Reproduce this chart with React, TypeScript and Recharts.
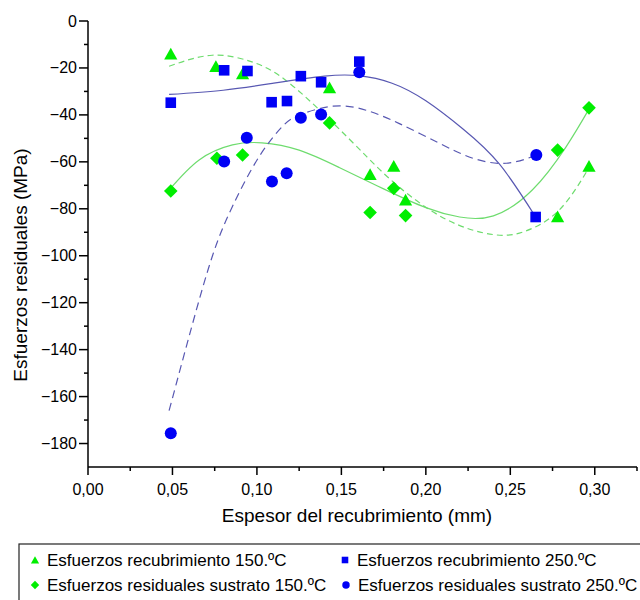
import React from "react";
import { ComposedChart, Line, Scatter, XAxis, YAxis } from "recharts";

const FONT = '"Liberation Sans", Arial, Helvetica, sans-serif';
const GREEN = "#00ee00";
const BLUE = "#0000f5";
const GREEN_FIT = "#6edc6e";
const BLUE_FIT = "#5858b2";

// espesor (mm) y esfuerzo (MPa) medidos
const xTri150 = [0.049, 0.0757, 0.0915, 0.143, 0.167, 0.181, 0.188, 0.278, 0.2966];
const yTri150 = [-14, -19.3, -22.4, -28.3, -65.3, -61.8, -76.2, -83.3, -61.8];

const xDia150 = [0.049, 0.0763, 0.0915, 0.143, 0.167, 0.181, 0.188, 0.278, 0.2966];
const yDia150 = [-72.4, -58.5, -57.1, -43.4, -81.6, -71.3, -82.9, -55, -37];

const xSq250 = [0.049, 0.0806, 0.0944, 0.1087, 0.1178, 0.126, 0.138, 0.1606, 0.265];
const ySq250 = [-34.8, -21, -21.3, -34.6, -34.1, -23.5, -26.1, -17.3, -83.5];

const xCir250 = [0.049, 0.0806, 0.094, 0.1089, 0.1176, 0.126, 0.138, 0.1606, 0.2654];
const yCir250 = [-175.6, -59.9, -49.7, -68.4, -64.9, -41.2, -39.8, -21.8, -57.1];

// curvas de ajuste
const xFitTri150 = [0.048, 0.0735, 0.097, 0.117, 0.143, 0.165, 0.184, 0.212, 0.24, 0.259, 0.279, 0.297];
const yFitTri150 = [-19.3, -14.6, -17.4, -25.2, -42, -57.8, -70.6, -84.5, -91, -89.5, -80.5, -62];

const xFitDia150 = [0.048, 0.0658, 0.0855, 0.103, 0.125, 0.149, 0.175, 0.2, 0.22, 0.24, 0.263, 0.283, 0.297];
const yFitDia150 = [-72, -59.2, -52.8, -51.9, -55, -62.5, -71.5, -79.5, -83.5, -83, -72, -53.6, -37];

const xFitSq250 = [0.048, 0.08, 0.11, 0.14, 0.16, 0.18, 0.2, 0.222, 0.2436, 0.265];
const yFitSq250 = [-31.3, -29.5, -26.5, -23.5, -23.3, -26.5, -34, -46, -61, -83.5];

const xFitCir250 = [0.048, 0.0615, 0.0737, 0.0855, 0.1013, 0.115, 0.125, 0.145, 0.1646, 0.184, 0.208, 0.228, 0.2476, 0.2654];
const yFitCir250 = [-166, -130, -100, -79, -57.8, -45, -40.1, -36.3, -38, -43.6, -52.1, -58.5, -60.6, -57.1];

const xTicks = [0, 0.025, 0.05, 0.075, 0.1, 0.125, 0.15, 0.175, 0.2, 0.225, 0.25, 0.275, 0.3, 0.325];
const yTicks = [-180, -170, -160, -150, -140, -130, -120, -110, -100, -90, -80, -70, -60, -50, -40, -30, -20, -10, 0];

const zip = (xs: number[], ys: number[]) => xs.map((x, i) => ({ x, y: ys[i] }));

const XTick = ({ x, y, payload }: any) => {
  const v = payload.value;
  const major = Math.round(v * 1000) % 50 === 0;
  return (
    <g>
      <line x1={x} x2={x} y1={y} y2={y + (major ? 8 : 4)} stroke="#000" strokeWidth={1.5} />
      {major && (
        <text x={x} y={y + 28} textAnchor="middle" fontSize={16} fontFamily={FONT} fill="#000">
          {v.toFixed(2).replace(".", ",")}
        </text>
      )}
    </g>
  );
};

const YTick = ({ x, y, payload }: any) => {
  const v = payload.value;
  const major = v % 20 === 0;
  return (
    <g>
      <line x1={x - (major ? 9 : 4)} x2={x} y1={y} y2={y} stroke="#000" strokeWidth={1.5} />
      {major && (
        <text x={x - 11} y={y + 5.5} textAnchor="end" fontSize={16} fontFamily={FONT} fill="#000">
          {(v < 0 ? "\u2212" : "") + Math.abs(v)}
        </text>
      )}
    </g>
  );
};

const Tri = ({ cx, cy, s = 1 }: any) => (
  <polygon
    points={`${cx},${cy - 6 * s} ${cx - 6.6 * s},${cy + 5.7 * s} ${cx + 6.6 * s},${cy + 5.7 * s}`}
    fill={GREEN}
  />
);
const Dia = ({ cx, cy, s = 1 }: any) => (
  <polygon
    points={`${cx},${cy - 6.8 * s} ${cx + 6.8 * s},${cy} ${cx},${cy + 6.8 * s} ${cx - 6.8 * s},${cy}`}
    fill={GREEN}
  />
);
const Sq = ({ cx, cy, s = 1 }: any) => (
  <rect x={cx - 5.3 * s} y={cy - 5.3 * s} width={10.6 * s} height={10.6 * s} fill={BLUE} />
);
const Cir = ({ cx, cy, s = 1 }: any) => <circle cx={cx} cy={cy} r={6 * s} fill={BLUE} />;

const legendItems = [
  { label: "Esfuerzos recubrimiento 150.ºC", Mark: Tri, x: 35, y: 560 },
  { label: "Esfuerzos recubrimiento 250.ºC", Mark: Sq, x: 345, y: 560 },
  { label: "Esfuerzos residuales sustrato 150.ºC", Mark: Dia, x: 35, y: 585 },
  { label: "Esfuerzos residuales sustrato 250.ºC", Mark: Cir, x: 346, y: 585 },
];

export default function App() {
  return (
    <div style={{ position: "absolute", left: 0, top: 0, width: 640, height: 600, background: "#fff" }}>
      <ComposedChart width={640} height={600} margin={{ top: 21, right: 3, bottom: 0, left: 0 }}>
        <XAxis
          type="number"
          dataKey="x"
          domain={[0, 0.325]}
          ticks={xTicks}
          height={133}
          tickSize={0}
          tickMargin={0}
          tick={<XTick />}
          axisLine={{ stroke: "#000", strokeWidth: 1.5 }}
          interval={0}
        />
        <YAxis
          type="number"
          dataKey="y"
          domain={[-190, 0]}
          ticks={yTicks}
          width={88}
          tickSize={0}
          tickMargin={0}
          tick={<YTick />}
          axisLine={{ stroke: "#000", strokeWidth: 1.5 }}
          interval={0}
        />
        <Line data={zip(xFitTri150, yFitTri150)} dataKey="y" type="natural" stroke={GREEN_FIT} strokeWidth={1.2} strokeDasharray="6 4" dot={false} activeDot={false} isAnimationActive={false} />
        <Line data={zip(xFitDia150, yFitDia150)} dataKey="y" type="natural" stroke={GREEN_FIT} strokeWidth={1.2} dot={false} activeDot={false} isAnimationActive={false} />
        <Line data={zip(xFitSq250, yFitSq250)} dataKey="y" type="natural" stroke={BLUE_FIT} strokeWidth={1.2} dot={false} activeDot={false} isAnimationActive={false} />
        <Line data={zip(xFitCir250, yFitCir250)} dataKey="y" type="natural" stroke={BLUE_FIT} strokeWidth={1.2} strokeDasharray="8 5" dot={false} activeDot={false} isAnimationActive={false} />
        <Scatter data={zip(xTri150, yTri150)} shape={<Tri />} isAnimationActive={false} />
        <Scatter data={zip(xSq250, ySq250)} shape={<Sq />} isAnimationActive={false} />
        <Scatter data={zip(xDia150, yDia150)} shape={<Dia />} isAnimationActive={false} />
        <Scatter data={zip(xCir250, yCir250)} shape={<Cir />} isAnimationActive={false} />
      </ComposedChart>
      <svg width={640} height={600} style={{ position: "absolute", left: 0, top: 0, pointerEvents: "none" }}>
        <text
          transform="translate(27,265) rotate(-90)"
          textAnchor="middle"
          fontSize={19}
          fontFamily={FONT}
          fill="#000"
        >
          Esfuerzos residuales (MPa)
        </text>
        <text x={357} y={522} textAnchor="middle" fontSize={19} fontFamily={FONT} fill="#000">
          Espesor del recubrimiento (mm)
        </text>
        <rect x={19} y={544} width={700} height={100} fill="none" stroke="#222" strokeWidth={1.2} />
        {legendItems.map(({ label, Mark, x, y }) => (
          <g key={label}>
            <Mark cx={x} cy={y} s={0.62} />
            <text x={x + 12} y={y + 6} fontSize={17} fontFamily={FONT} fill="#000">
              {label}
            </text>
          </g>
        ))}
      </svg>
    </div>
  );
}
